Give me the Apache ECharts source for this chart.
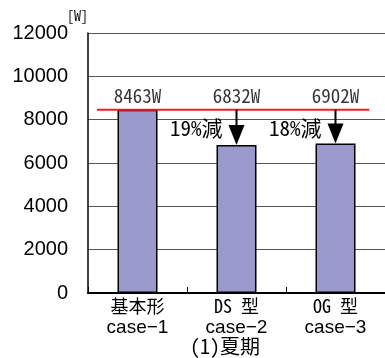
<!DOCTYPE html>
<html>
<head>
<meta charset="utf-8">
<script src="https://cdn.jsdelivr.net/npm/echarts@6/dist/echarts.min.js"></script>
<style>
  html, body { margin: 0; padding: 0; background: #fff; }
  #chart { width: 385px; height: 358px; }
</style>
</head>
<body>
<div id="chart"></div>
<script>
// Summer cooling load per building type
const typeNames = ['基本形', 'DS 型', 'OG 型'];
const caseNames = ['case−1', 'case−2', 'case−3'];
const power = [8463, 6832, 6902];          // [W]
const yMin = 0, yMax = 12000, yStep = 2000;
const baseSpan = [0.09, 2.84];             // extent of the base-case line, in category bands
const caption = '(1)夏期';

const GOTHIC = '"Noto Sans Mono CJK JP", "Noto Sans CJK JP", monospace';
const LAT = '"Liberation Sans", Arial, sans-serif';

const base = power[0];
// arrows from the base-case level down to each variant's bar
const arrows = power.slice(1).map((v, i) => [i + 1, base, v]);

const chart = echarts.init(document.getElementById('chart'), null, { renderer: 'canvas' });
chart.setOption({
  animation: false,
  backgroundColor: '#fff',
  title: {
    text: caption,
    left: 225,
    top: 336,
    textAlign: 'center',
    padding: 0,
    textStyle: { fontFamily: GOTHIC, fontSize: 20, fontWeight: 'normal', color: '#000' }
  },
  grid: { left: 88, top: 33, width: 301, height: 260, containLabel: false },
  xAxis: [
    {
      type: 'category',
      data: typeNames,
      boundaryGap: true,
      axisLine: { lineStyle: { color: '#000', width: 2 } },
      axisTick: { show: true, inside: true, length: 6, lineStyle: { color: '#000', width: 1 } },
      axisLabel: {
        interval: 0, margin: 2, color: '#000',
        formatter: (v, i) => '{t|' + v + '}\n{c|' + caseNames[i] + '}',
        rich: {
          t: { fontFamily: GOTHIC, fontSize: 18, lineHeight: 22, color: '#000' },
          c: { fontFamily: LAT, fontSize: 19, lineHeight: 22, color: '#000' }
        }
      },
      splitLine: { show: false }
    },
    {
      type: 'value', min: 0, max: typeNames.length, show: false
    }
  ],
  yAxis: {
    type: 'value',
    min: yMin, max: yMax, interval: yStep,
    name: '[W]',
    nameLocation: 'end',
    nameGap: 7,
    nameTextStyle: { fontFamily: GOTHIC, fontSize: 14, color: '#000', align: 'right', verticalAlign: 'bottom' },
    axisLine: { show: true, lineStyle: { color: '#000', width: 1.5 } },
    axisTick: { show: false },
    axisLabel: { fontFamily: LAT, fontSize: 20, color: '#000', margin: 20, formatter: v => String(v) },
    splitLine: { show: true, lineStyle: { color: '#555', width: 1 } }
  },
  series: [
    {
      type: 'bar',
      data: power,
      barWidth: 40,
      itemStyle: { color: '#9999cc', borderColor: '#000', borderWidth: 1.5 },
      z: 2
    },
    {
      // base-case reference line
      type: 'line',
      xAxisIndex: 1,
      data: baseSpan.map(x => [x, base]),
      symbol: 'none',
      lineStyle: { color: '#e8202a', width: 2 },
      z: 3
    },
    {
      // value labels above the reference line
      type: 'scatter',
      data: power.map((v, i) => [i, base]),
      symbolSize: 0,
      label: {
        show: true,
        position: 'top',
        distance: 4,
        fontFamily: GOTHIC,
        fontSize: 19,
        color: '#000',
        formatter: p => power[p.dataIndex] + 'W'
      },
      z: 4
    },
    {
      // reduction arrows with percentage labels
      type: 'custom',
      data: arrows,
      renderItem: (params, api) => {
        const idx = api.value(0);
        const from = api.coord([idx, api.value(1)]);
        const to = api.coord([idx, api.value(2)]);
        const x = from[0];
        const headH = 20, headW = 16;
        const pct = Math.round((1 - api.value(2) / api.value(1)) * 100);
        return {
          type: 'group',
          children: [
            {
              type: 'line',
              shape: { x1: x, y1: from[1], x2: x, y2: to[1] - headH + 1 },
              style: { stroke: '#000', lineWidth: 2 }
            },
            {
              type: 'polygon',
              shape: { points: [[x - headW / 2, to[1] - headH], [x + headW / 2, to[1] - headH], [x, to[1]]] },
              style: { fill: '#000' }
            },
            {
              type: 'text',
              style: {
                text: pct + '%減',
                x: x - 14,
                y: from[1] + 18,
                align: 'right',
                verticalAlign: 'middle',
                font: '21px ' + GOTHIC,
                fill: '#000'
              }
            }
          ]
        };
      },
      z: 5
    }
  ]
});
</script>
</body>
</html>
